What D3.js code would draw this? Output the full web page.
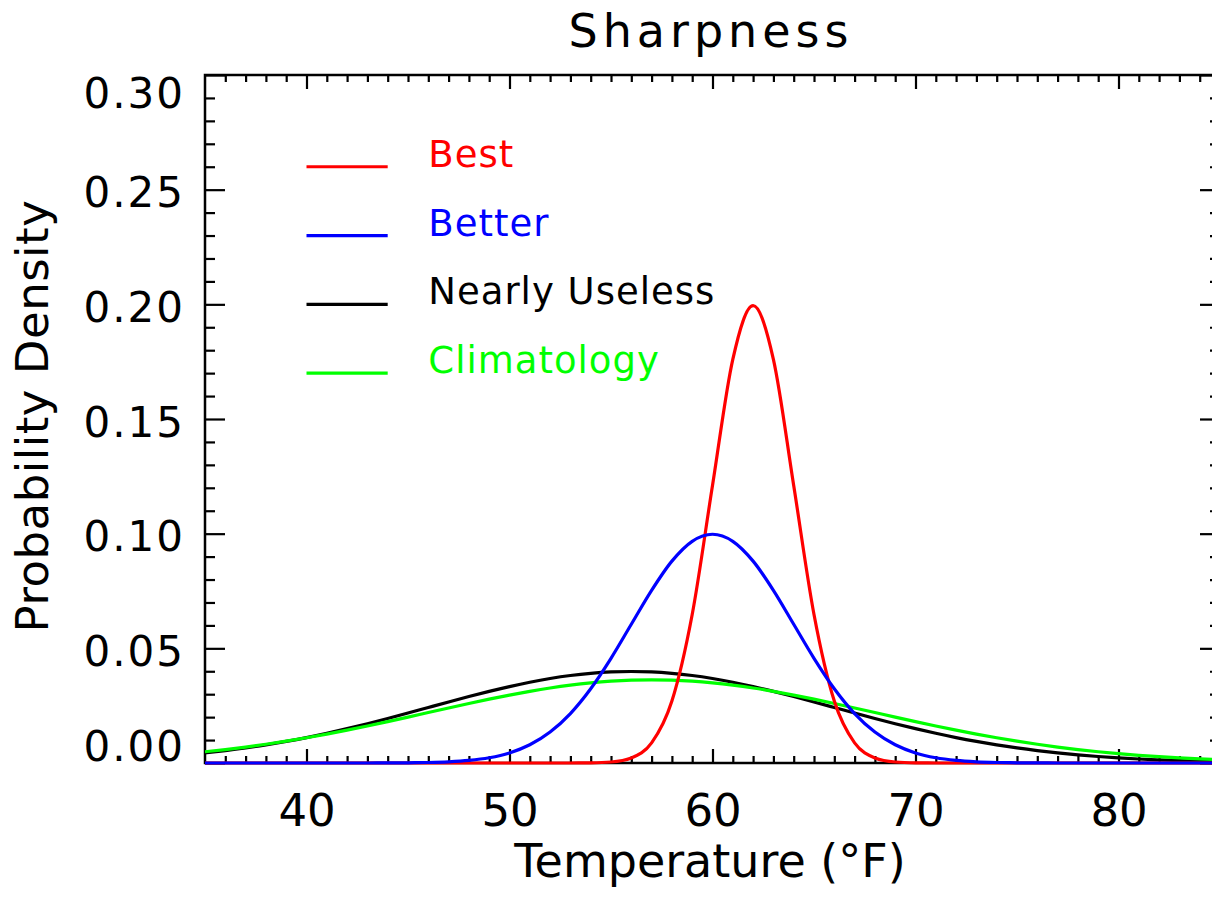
<!DOCTYPE html>
<html>
<head>
<meta charset="utf-8">
<script src="https://cdn.jsdelivr.net/npm/d3@7/dist/d3.min.js"></script>
<style>
    body { margin: 0; background: #fff; }
    svg { display: block; }
    text { font-family: "DejaVu Sans", sans-serif; fill: #000; }
</style>
</head>
<body>
<script>

// Temperature grid (deg F) the curves were read at
var temps = [35,36,37,38,39,40,41,42,43,44,45,46,47,48,49,50,51,52,53,54,55,56,57,58,59,
             60,61,62,63,64,65,66,67,68,69,70,71,72,73,74,75,76,77,78,79,80,81,82,83,84,85];

// Probability density
var best = [0,0,0,0,0,0,0,0,0,0,0,0,0,0,0,0,0,0,
            0.00001,0.00007,0.00044,0.00222,0.00876,0.02700,0.06476,0.12098,0.17603,0.19947,
            0.17603,0.12098,0.06476,0.02700,0.00876,0.00222,0.00044,0.00007,0.00001,
            0,0,0,0,0,0,0,0,0,0,0,0,0,0];

var better = [0,0,0,0,0,0,0,0,
              0.00001,0.00003,0.00009,0.00022,0.00051,0.00111,0.00227,0.00438,0.00794,0.01350,
              0.02157,0.03238,0.04566,0.06049,0.07528,0.08802,0.09667,0.09974,0.09667,0.08802,
              0.07528,0.06049,0.04566,0.03238,0.02157,0.01350,0.00794,0.00438,0.00227,0.00111,
              0.00051,0.00022,0.00009,0.00003,0.00001,
              0,0,0,0,0,0,0,0];

var nearlyUseless = [0.00440,0.00540,0.00656,0.00790,0.00941,0.01109,0.01295,0.01497,0.01714,0.01942,
                     0.02178,0.02420,0.02661,0.02897,0.03123,0.03332,0.03521,0.03683,0.03814,0.03910,
                     0.03970,0.03989,0.03970,0.03910,0.03814,0.03683,0.03521,0.03332,0.03123,0.02897,
                     0.02661,0.02420,0.02178,0.01942,0.01714,0.01497,0.01295,0.01109,0.00941,0.00790,
                     0.00656,0.00540,0.00440,0.00355,0.00283,0.00224,0.00175,0.00136,0.00104,0.00079,
                     0.00060];

var climatology = [0.00491,0.00586,0.00694,0.00816,0.00951,0.01099,0.01259,0.01431,0.01614,0.01804,
                   0.02000,0.02200,0.02399,0.02595,0.02784,0.02962,0.03125,0.03271,0.03395,0.03494,
                   0.03567,0.03612,0.03627,0.03612,0.03567,0.03494,0.03395,0.03271,0.03125,0.02962,
                   0.02784,0.02595,0.02399,0.02200,0.02000,0.01804,0.01614,0.01431,0.01259,0.01099,
                   0.00951,0.00816,0.00694,0.00586,0.00491,0.00408,0.00336,0.00274,0.00222,0.00178,
                   0.00142];

// Axis ticks
var xTicks = [40, 50, 60, 70, 80];
var xMinor = [36,37,38,39,41,42,43,44,45,46,47,48,49,51,52,53,54,55,56,57,58,59,
              61,62,63,64,65,66,67,68,69,71,72,73,74,75,76,77,78,79,81,82,83,84];
var yTicks = [0, 0.05, 0.10, 0.15, 0.20, 0.25, 0.30];
var yMinor = [0.01,0.02,0.03,0.04,0.06,0.07,0.08,0.09,0.11,0.12,0.13,0.14,
              0.16,0.17,0.18,0.19,0.21,0.22,0.23,0.24,0.26,0.27,0.28,0.29];

var seriesNames = ["Best", "Better", "Nearly Useless", "Climatology"];
var seriesValues = [best, better, nearlyUseless, climatology];
var seriesColors = ["#ff0000", "#0000ff", "#000000", "#00ff00"];

// legend anchor in data units
var legendX = [40, 44, 46];
var legendY = [0.26, 0.23, 0.20, 0.17];

////////////////////////////
// Create the SVG Viewport
var width = 1212, height = 899;

var svg = d3.select("body").append("svg")
    .attr("width", width)
    .attr("height", height);

var x = d3.scaleLinear().domain([35, 85]).range([205, 1220]);
var y = d3.scaleLinear().domain([0, 0.30]).range([763, 75]);

////////////////////////////
// Axes: ticks point inward on all four sides

function styleAxis(g) {
    g.select(".domain").remove();
    g.selectAll(".tick line").attr("stroke", "#000").attr("stroke-width", 2.2);
}

// bottom
svg.append("g")
    .attr("transform", "translate(0,763)")
    .call(d3.axisBottom(x).tickValues(xTicks).tickSize(-14).tickPadding(31).tickFormat(d3.format("d")))
    .call(styleAxis)
    .attr("font-size", 45)
    .attr("font-family", "DejaVu Sans");
svg.append("g")
    .attr("transform", "translate(0,763)")
    .call(d3.axisBottom(x).tickValues(xMinor).tickSize(-7).tickFormat(""))
    .call(styleAxis);

// top
svg.append("g")
    .attr("transform", "translate(0,75)")
    .call(d3.axisTop(x).tickValues(xTicks).tickSize(-14).tickFormat(""))
    .call(styleAxis);
svg.append("g")
    .attr("transform", "translate(0,75)")
    .call(d3.axisTop(x).tickValues(xMinor).tickSize(-7).tickFormat(""))
    .call(styleAxis);

// left
var yAxisG = svg.append("g")
    .attr("transform", "translate(205,0)")
    .call(d3.axisLeft(y).tickValues(yTicks).tickSize(-20).tickPadding(20).tickFormat(d3.format(".2f")))
    .call(styleAxis)
    .attr("font-size", 42)
    .attr("font-family", "DejaVu Sans");
yAxisG.selectAll(".tick text")
    .attr("letter-spacing", 2)
    .attr("dy", function(d) {
        if (d === 0.30) return "0.77em";
        if (d === 0) return "-0.06em";
        return "0.41em";
    });
svg.append("g")
    .attr("transform", "translate(205,0)")
    .call(d3.axisLeft(y).tickValues(yMinor).tickSize(-10).tickFormat(""))
    .call(styleAxis);

// right
svg.append("g")
    .attr("transform", "translate(1220,0)")
    .call(d3.axisRight(y).tickValues(yTicks).tickSize(-20).tickFormat(""))
    .call(styleAxis);
svg.append("g")
    .attr("transform", "translate(1220,0)")
    .call(d3.axisRight(y).tickValues(yMinor).tickSize(-10).tickFormat(""))
    .call(styleAxis);

// frame
svg.append("rect")
    .attr("x", x(35))
    .attr("y", y(0.30))
    .attr("width", x(85) - x(35))
    .attr("height", y(0) - y(0.30))
    .attr("fill", "none")
    .attr("stroke", "#000")
    .attr("stroke-width", 2.5);

////////////////////////////
// Curves

var line = d3.line()
    .x(function(d, i) { return x(temps[i]); })
    .y(function(d) { return y(d); })
    .curve(d3.curveMonotoneX);

// drawing order as in the original: black, green, red, blue
var drawOrder = [2, 3, 0, 1];
svg.selectAll(".curve")
    .data(drawOrder)
    .enter()
    .append("path")
    .attr("class", "curve")
    .attr("d", function(k) { return line(seriesValues[k]); })
    .attr("fill", "none")
    .attr("stroke", function(k) { return seriesColors[k]; })
    .attr("stroke-width", 3.2)
    .attr("stroke-linejoin", "round");

////////////////////////////
// Legend

var legend = svg.selectAll(".legend")
    .data(seriesNames)
    .enter()
    .append("g")
    .attr("class", "legend");

legend.append("line")
    .attr("x1", x(legendX[0]))
    .attr("x2", x(legendX[1]))
    .attr("y1", function(d, i) { return y(legendY[i]); })
    .attr("y2", function(d, i) { return y(legendY[i]); })
    .attr("stroke", function(d, i) { return seriesColors[i]; })
    .attr("stroke-width", 3.2);

legend.append("text")
    .attr("x", x(legendX[2]))
    .attr("y", function(d, i) { return y(legendY[i]); })
    .attr("font-size", 37)
    .attr("letter-spacing", 1)
    .style("fill", function(d, i) { return seriesColors[i]; })
    .text(function(d) { return d; });

////////////////////////////
// Titles

svg.append("text")
    .attr("x", 711)
    .attr("y", 47)
    .attr("text-anchor", "middle")
    .attr("font-size", 46)
    .attr("letter-spacing", 5)
    .text("Sharpness");

svg.append("text")
    .attr("x", 710)
    .attr("y", 877)
    .attr("text-anchor", "middle")
    .attr("font-size", 46)
    .text("Temperature (°F)");

svg.append("text")
    .attr("transform", "translate(48,416) rotate(-90)")
    .attr("text-anchor", "middle")
    .attr("font-size", 45)
    .attr("letter-spacing", 0.5)
    .text("Probability Density");

</script>
</body>
</html>
